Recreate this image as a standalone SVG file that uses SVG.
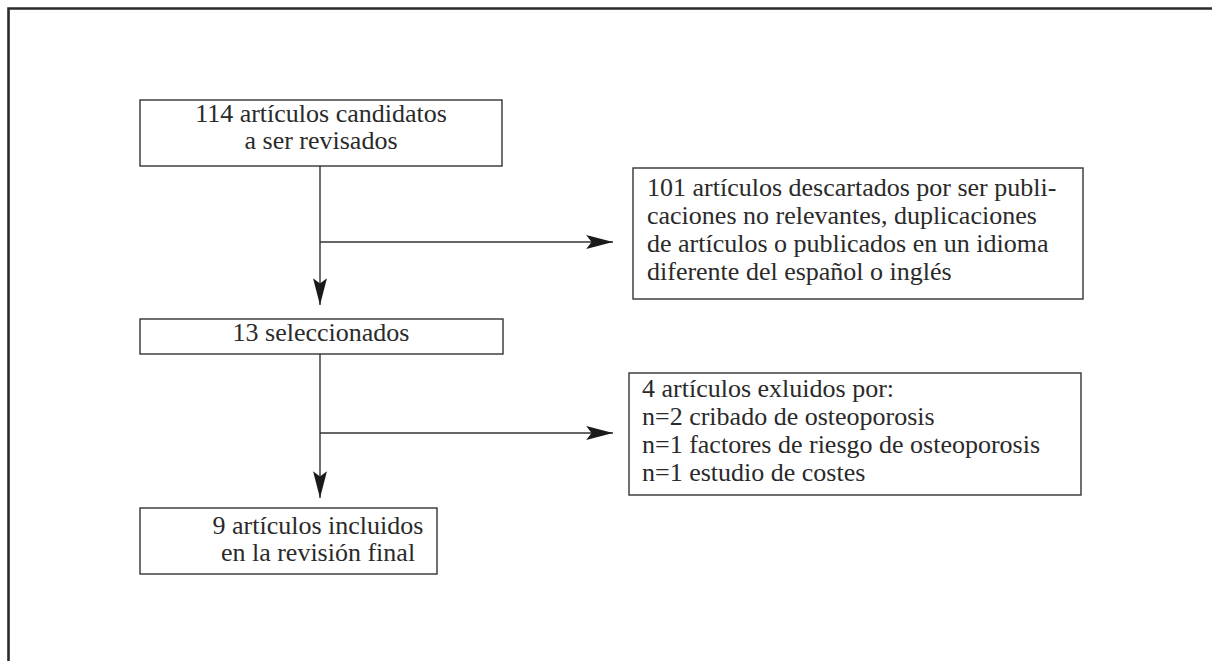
<svg xmlns="http://www.w3.org/2000/svg" width="1212" height="661" viewBox="0 0 1212 661">
  <defs>
    <style>
      .frame { fill: none; stroke: #2b2b2b; stroke-width: 2.6; }
      .box { fill: #ffffff; stroke: #333333; stroke-width: 1.4; }
      .conn { fill: none; stroke: #333333; stroke-width: 1.4; }
      .t { font-family: "Liberation Serif", "Times New Roman", serif; font-size: 26px; fill: #2a2a2a; }
      .c { text-anchor: middle; }
    </style>
    <marker id="arrow" markerUnits="userSpaceOnUse" markerWidth="30" markerHeight="20" viewBox="-26 -8 28 16" refX="0" refY="0" orient="auto">
      <path d="M0,0 L-25,-6.5 L-20,0 L-25,6.5 Z" fill="#1a1a1a"/>
    </marker>
  </defs>
  <rect width="1212" height="661" fill="#ffffff"/>
  <path class="frame" d="M8.5,661 L8.5,8.5 L1212,8.5"/>

  <g id="connectors">
    <line class="conn" x1="320" y1="166" x2="320" y2="305" marker-end="url(#arrow)"/>
    <line class="conn" x1="320" y1="242" x2="613" y2="242" marker-end="url(#arrow)"/>
    <line class="conn" x1="320" y1="354" x2="320" y2="498" marker-end="url(#arrow)"/>
    <line class="conn" x1="320" y1="433" x2="613" y2="433" marker-end="url(#arrow)"/>
  </g>

  <g id="node-candidatos">
    <rect class="box" x="140" y="100" width="362" height="66"/>
    <text class="t c" x="321" y="122">114 artículos candidatos</text>
    <text class="t c" x="321" y="149">a ser revisados</text>
  </g>

  <g id="node-descartados">
    <rect class="box" x="633" y="168" width="450" height="131"/>
    <text class="t" x="647" y="196">101 artículos descartados por ser publi-</text>
    <text class="t" x="647" y="224">caciones no relevantes, duplicaciones</text>
    <text class="t" x="647" y="252">de artículos o publicados en un idioma</text>
    <text class="t" x="647" y="280">diferente del español o inglés</text>
  </g>

  <g id="node-seleccionados">
    <rect class="box" x="140" y="319" width="363" height="35"/>
    <text class="t c" x="321" y="341">13 seleccionados</text>
  </g>

  <g id="node-excluidos">
    <rect class="box" x="629" y="373" width="452" height="122"/>
    <text class="t" x="642" y="397">4 artículos exluidos por:</text>
    <text class="t" x="642" y="425">n=2 cribado de osteoporosis</text>
    <text class="t" x="642" y="453">n=1 factores de riesgo de osteoporosis</text>
    <text class="t" x="642" y="481">n=1 estudio de costes</text>
  </g>

  <g id="node-incluidos">
    <rect class="box" x="140" y="508" width="297" height="66"/>
    <text class="t c" x="318" y="534">9 artículos incluidos</text>
    <text class="t c" x="318" y="561">en la revisión final</text>
  </g>
</svg>
